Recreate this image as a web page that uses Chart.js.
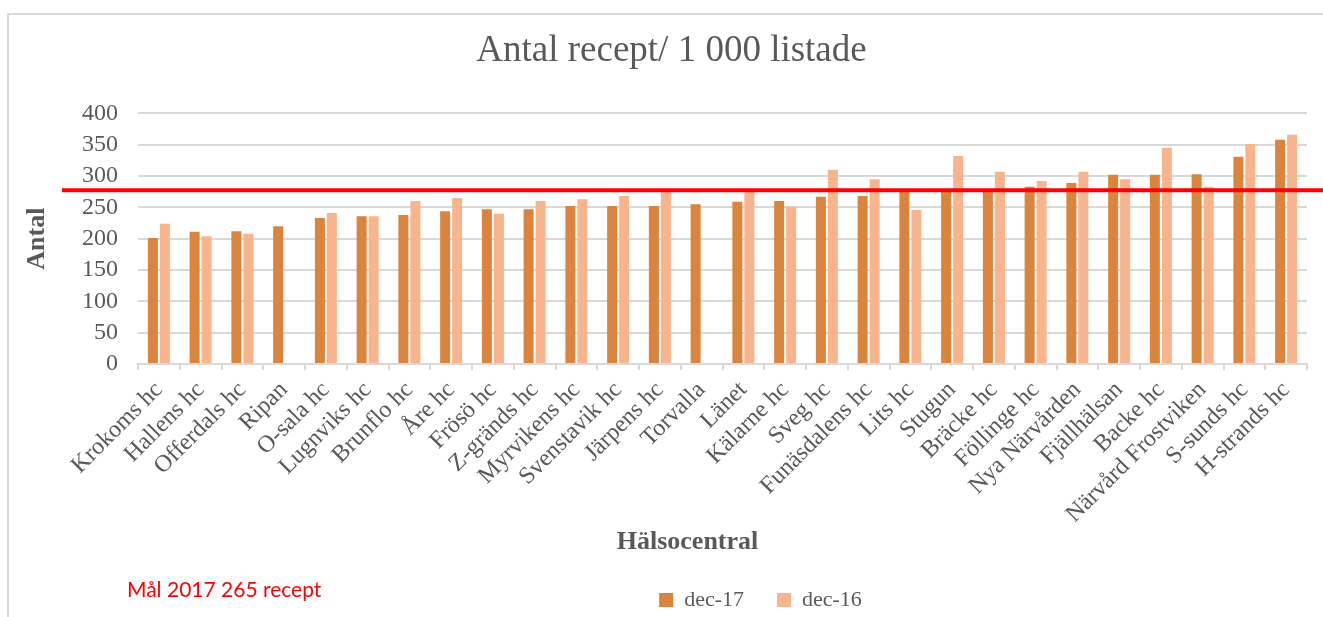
<!DOCTYPE html>
<html>
<head>
<meta charset="utf-8">
<script src="https://cdn.jsdelivr.net/npm/chart.js@4.4.0/dist/chart.umd.min.js"></script>
<style>
	html, body { margin: 0; padding: 0; background: #fff; overflow: hidden; }
	#ram { position: absolute; left: 7px; top: 13px; width: 1400px; height: 700px; border: 2px solid #d9d9d9; box-sizing: border-box; }
	#wrap { position: absolute; left: 0; top: 0; width: 1323px; height: 617px; }
	#mal { position: absolute; left: 127px; top: 576px; font-family: Lato, "Liberation Sans", sans-serif; font-size: 21px; color: #ff0000; }
</style>
</head>
<body>
<div id="ram"></div>
<div id="wrap"><canvas id="myChart"></canvas></div>
<div id="mal">Mål 2017 265 recept</div>

<script>
// hälsocentraler, sorterade efter dec-17
const kategorier = ['Krokoms hc', 'Hallens hc', 'Offerdals hc', 'Ripan', 'O-sala hc', 'Lugnviks hc', 'Brunflo hc',
	'Åre hc', 'Frösö hc', 'Z-gränds hc', 'Myrvikens hc', 'Svenstavik hc', 'Järpens hc', 'Torvalla', 'Länet',
	'Kälarne hc', 'Sveg hc', 'Funäsdalens hc', 'Lits hc', 'Stugun', 'Bräcke hc', 'Föllinge hc', 'Nya Närvården',
	'Fjällhälsan', 'Backe hc', 'Närvård Frostviken', 'S-sunds hc', 'H-strands hc'];

const dec17 = [201, 211, 212, 220, 233, 236, 238, 244, 247, 247, 252, 252, 252, 255, 259,
	260, 267, 268, 278, 278, 279, 283, 289, 302, 302, 303, 331, 358];

const dec16 = [224, 204, 208, null, 241, 236, 260, 265, 240, 260, 263, 268, 276, null, 278,
	251, 310, 295, 246, 332, 307, 292, 307, 295, 345, 283, 351, 366];

const yTicks = [0, 50, 100, 150, 200, 250, 300, 350, 400];
const malLinje = 277.5; // röda linjen

const grid = '#d9d9d9';
const text = '#595959';
const serif = "'Liberation Serif', 'Times New Roman', serif";

const linjePlugin = {
	id: 'malLinje',
	afterLayout: function(chart) {
		// flytta legend och titlar som i originalet
		let lg = chart.legend;
		lg.left += 107; lg.right += 107;
		lg.top += 4; lg.bottom += 4;

		let tb = chart.titleBlock;
		tb.left += 18; tb.right += 18;

		let sx = chart.scales.x;
		let orig = sx.drawTitle;
		sx.drawTitle = function() {
			this.left -= 35; this.right -= 35;
			orig.call(this);
			this.left += 35; this.right += 35;
		};
	},
	afterDatasetsDraw: function(chart) {
		let ctx = chart.ctx;
		let y = chart.scales.y.getPixelForValue(malLinje);
		ctx.save();
		ctx.strokeStyle = '#ff0000';
		ctx.lineWidth = 4;
		ctx.beginPath();
		ctx.moveTo(62, y);
		ctx.lineTo(chart.width, y);
		ctx.stroke();
		ctx.restore();
	}
};

let ctx = document.getElementById('myChart').getContext('2d');

new Chart(ctx, {
	type: 'bar',
	data: {
		labels: kategorier,
		datasets: [{
			label: 'dec-17',
			data: dec17,
			backgroundColor: '#DB843D',
			categoryPercentage: 0.575,
			barPercentage: 0.833
		}, {
			label: 'dec-16',
			data: dec16,
			backgroundColor: '#F8B48D',
			categoryPercentage: 0.575,
			barPercentage: 0.833
		}]
	},
	options: {
		responsive: true,
		maintainAspectRatio: false,
		animation: false,
		layout: { padding: { top: 0, left: 0, right: 16, bottom: 0 } },
		plugins: {
			title: {
				display: true,
				text: 'Antal recept/ 1 000 listade',
				color: text,
				font: { family: serif, size: 37, weight: 'normal' },
				padding: { top: 29, bottom: 40 }
			},
			legend: {
				position: 'bottom',
				labels: {
					color: text,
					font: { family: serif, size: 22 },
					boxWidth: 14,
					boxHeight: 14,
					padding: 33
				}
			},
			tooltip: { enabled: false }
		},
		scales: {
			x: {
				grid: { drawOnChartArea: false, drawTicks: true, tickLength: 6, color: grid, lineWidth: 2, offset: true },
				border: { color: grid, width: 2 },
				ticks: {
					color: text,
					font: { family: serif, size: 24 },
					minRotation: 45,
					maxRotation: 45,
					autoSkip: false,
					padding: 6
				},
				title: {
					display: true,
					text: 'Hälsocentral',
					color: text,
					font: { family: serif, size: 26, weight: 'bold' },
					padding: { top: 0, bottom: -6 }
				},
				afterFit: function(s) {
					s.height = s.chart.height - 364 - s.chart.legend.height;
				}
			},
			y: {
				min: 0,
				max: 400,
				afterBuildTicks: function(s) {
					s.ticks = yTicks.map(v => ({ value: v }));
				},
				grid: { color: grid, lineWidth: 2, drawTicks: false },
				border: { display: false },
				ticks: {
					color: text,
					font: { family: serif, size: 24 },
					padding: 20,
					autoSkip: false
				},
				title: {
					display: true,
					text: 'Antal',
					color: text,
					font: { family: serif, size: 26, weight: 'bold' },
					padding: { top: 22, bottom: 0 }
				},
				afterFit: function(s) {
					s.width = 138;
				}
			}
		}
	},
	plugins: [linjePlugin]
});
</script>
</body>
</html>
